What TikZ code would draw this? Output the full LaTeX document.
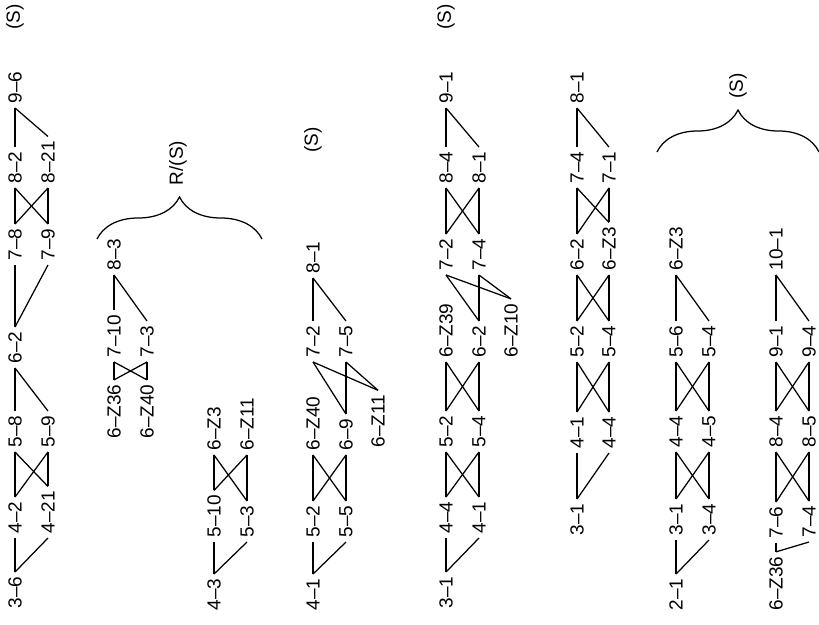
\documentclass[tikz,border=0pt]{standalone}
\usepackage{fontspec}
\setmainfont{Liberation Sans}
\usetikzlibrary{decorations.pathreplacing}

\begin{document}
\begin{tikzpicture}[x=1pt, y=-1pt, line width=1.25pt,
  lab/.style={rotate=90, anchor=west, inner xsep=4pt, inner ysep=1pt,
    font=\fontsize{19}{21}\selectfont},
  tag/.style={rotate=90, inner sep=1pt, font=\fontsize{19}{21}\selectfont},
  bracket/.style={decorate, decoration={brace, amplitude=42pt}}]
  \useasboundingbox (0,0) rectangle (819,624);

  % Row 1
  \node[lab] (a36) at (15,613) {3--6};
  \node[lab] (a42) at (15,538) {4--2};
  \node[lab] (a421) at (48,538) {4--21};
  \node[lab] (a58) at (15,452) {5--8};
  \node[lab] (a59) at (48,452) {5--9};
  \node[lab] (a62) at (15,368) {6--2};
  \node[lab] (a78) at (15,265) {7--8};
  \node[lab] (a79) at (48,265) {7--9};
  \node[lab] (a82) at (15,188) {8--2};
  \node[lab] (a821) at (48,188) {8--21};
  \node[lab] (a96) at (15,108) {9--6};
  \node[tag] (s1) at (15,17) {(S)};
  \foreach \s/\t in {a36/a42, a36/a421, a42/a58, a42/a59, a421/a58, a421/a59,
      a58/a62, a59/a62, a62/a78, a62/a79, a78/a82, a78/a821, a79/a82,
      a79/a821, a82/a96, a821/a96}
    \draw (\s.east) -- (\t.west);

  % Row 2
  \node[lab] (b636) at (114,443) {6--Z36};
  \node[lab] (b640) at (147,443) {6--Z40};
  \node[lab] (b710) at (114,362) {7--10};
  \node[lab] (b73) at (147,362) {7--3};
  \node[lab] (b83) at (114,275) {8--3};
  \foreach \s/\t in {b636/b710, b636/b73, b640/b710, b640/b73, b710/b83, b73/b83}
    \draw (\s.east) -- (\t.west);

  % Row 3
  \node[lab] (c43) at (214,615) {4--3};
  \node[lab] (c510) at (214,542) {5--10};
  \node[lab] (c53) at (247,542) {5--3};
  \node[lab] (c63) at (214,455) {6--Z3};
  \node[lab] (c611) at (247,455) {6--Z11};
  \foreach \s/\t in {c43/c510, c43/c53, c510/c63, c510/c611, c53/c63, c53/c611}
    \draw (\s.east) -- (\t.west);

  % Brace over rows 2 and 3
  \draw[bracket] (97,239) -- (262,239);
  \node[tag] (rs) at (178,163) {R/(S)};

  % Row 4
  \node[lab] (d41) at (313,615) {4--1};
  \node[lab] (d52) at (313,542) {5--2};
  \node[lab] (d55) at (346,542) {5--5};
  \node[lab] (d640) at (313,455) {6--Z40};
  \node[lab] (d69) at (346,455) {6--9};
  \node[lab] (d611) at (378,452) {6--Z11};
  \node[lab] (d72) at (313,362) {7--2};
  \node[lab] (d75) at (346,362) {7--5};
  \node[lab] (d81) at (313,278) {8--1};
  \node[tag] (s4) at (313,140) {(S)};
  \foreach \s/\t in {d41/d52, d41/d55, d52/d640, d52/d69, d55/d640, d55/d69,
      d69/d72, d69/d75, d611/d72, d611/d75, d72/d81, d75/d81}
    \draw (\s.east) -- (\t.west);

  % Row 5
  \node[lab] (e31) at (446,613) {3--1};
  \node[lab] (e44) at (446,538) {4--4};
  \node[lab] (e41) at (479,538) {4--1};
  \node[lab] (e52) at (446,452) {5--2};
  \node[lab] (e54) at (479,452) {5--4};
  \node[lab] (e639) at (446,362) {6--Z39};
  \node[lab] (e62) at (479,362) {6--2};
  \node[lab] (e610) at (511,362) {6--Z10};
  \node[lab] (e72) at (446,275) {7--2};
  \node[lab] (e74) at (479,275) {7--4};
  \node[lab] (e84) at (446,188) {8--4};
  \node[lab] (e81) at (479,188) {8--1};
  \node[lab] (e91) at (446,108) {9--1};
  \node[tag] (s5) at (446,17) {(S)};
  \foreach \s/\t in {e31/e44, e31/e41, e44/e52, e44/e54, e41/e52, e41/e54,
      e52/e639, e52/e62, e54/e639, e54/e62, e62/e72, e62/e74, e610/e72,
      e610/e74, e72/e84, e72/e81, e74/e84, e74/e81, e84/e91, e81/e91}
    \draw (\s.east) -- (\t.west);

  % Row 6
  \node[lab] (f31) at (577,540) {3--1};
  \node[lab] (f41) at (577,453) {4--1};
  \node[lab] (f44) at (609,453) {4--4};
  \node[lab] (f52) at (577,362) {5--2};
  \node[lab] (f54) at (609,362) {5--4};
  \node[lab] (f62) at (577,275) {6--2};
  \node[lab] (f63) at (609,275) {6--Z3};
  \node[lab] (f74) at (577,188) {7--4};
  \node[lab] (f71) at (609,188) {7--1};
  \node[lab] (f81) at (577,108) {8--1};
  \foreach \s/\t in {f31/f41, f31/f44, f41/f52, f41/f54, f44/f52, f44/f54,
      f52/f62, f52/f63, f54/f62, f54/f63, f62/f74, f62/f71, f63/f74,
      f63/f71, f74/f81, f71/f81}
    \draw (\s.east) -- (\t.west);

  % Row 7
  \node[lab] (g21) at (676,615) {2--1};
  \node[lab] (g31) at (676,540) {3--1};
  \node[lab] (g34) at (709,540) {3--4};
  \node[lab] (g44) at (676,452) {4--4};
  \node[lab] (g45) at (709,452) {4--5};
  \node[lab] (g56) at (676,362) {5--6};
  \node[lab] (g54) at (709,362) {5--4};
  \node[lab] (g63) at (676,275) {6--Z3};
  \foreach \s/\t in {g21/g31, g21/g34, g31/g44, g31/g45, g34/g44, g34/g45,
      g44/g56, g44/g54, g45/g56, g45/g54, g56/g63, g54/g63}
    \draw (\s.east) -- (\t.west);

  % Row 8
  \node[lab] (h636) at (776,615) {6--Z36};
  \node[lab] (h76) at (776,543) {7--6};
  \node[lab] (h74) at (809,542) {7--4};
  \node[lab] (h84) at (776,452) {8--4};
  \node[lab] (h85) at (809,452) {8--5};
  \node[lab] (h91) at (776,362) {9--1};
  \node[lab] (h94) at (809,362) {9--4};
  \node[lab] (h101) at (776,275) {10--1};
  \foreach \s/\t in {h636/h76, h636/h74, h76/h84, h76/h85, h74/h84, h74/h85,
      h84/h91, h84/h94, h85/h91, h85/h94, h91/h101, h94/h101}
    \draw (\s.east) -- (\t.west);

  % Brace over rows 7 and 8
  \draw[bracket] (657,152) -- (819,152);
  \node[tag] (s78) at (738,86) {(S)};
\end{tikzpicture}
\end{document}
